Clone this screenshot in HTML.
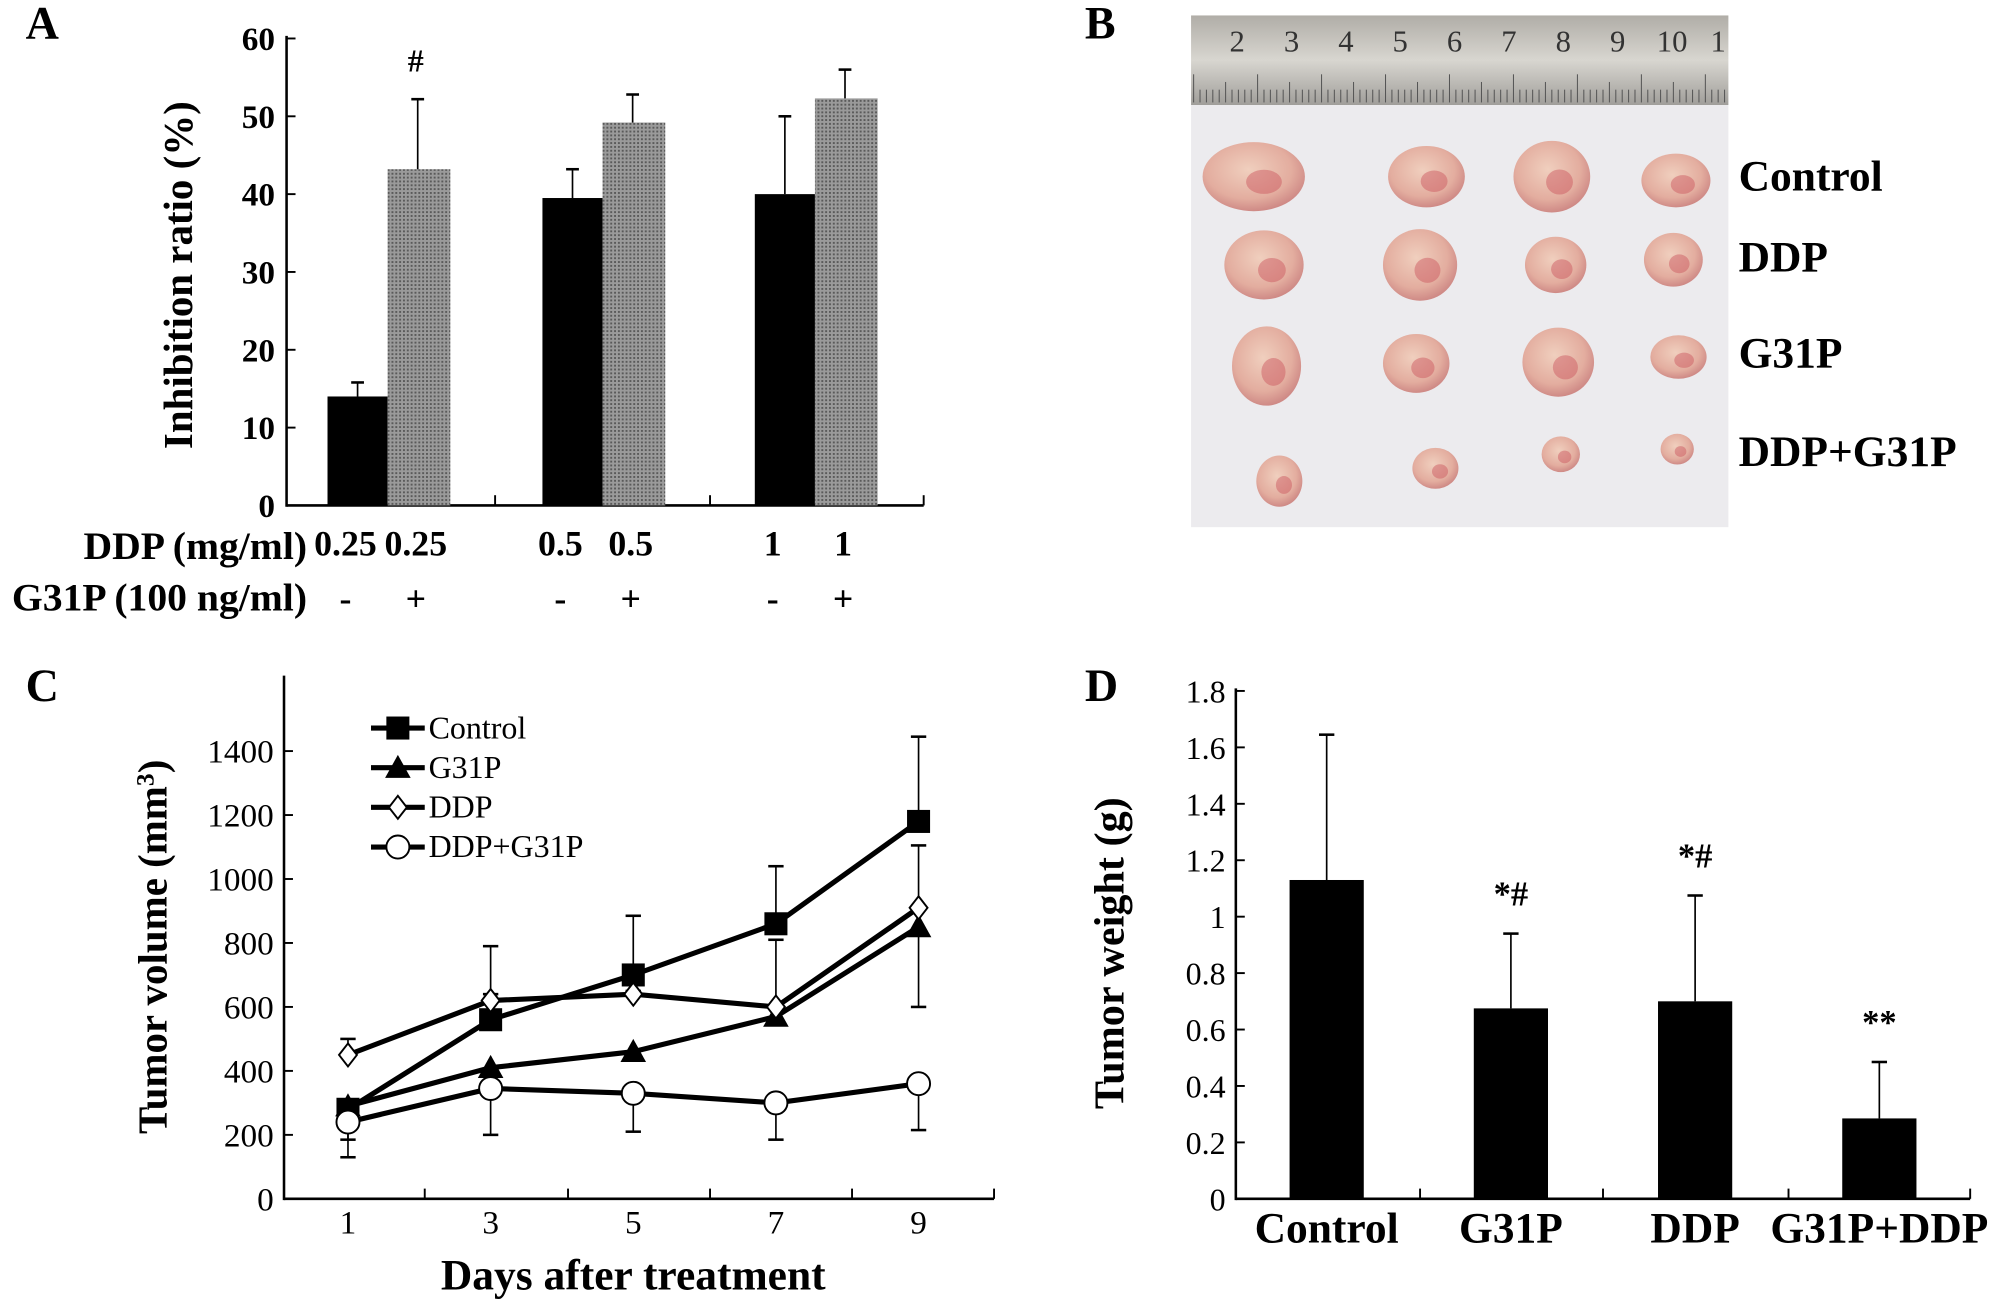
<!DOCTYPE html>
<html><head><meta charset="utf-8"><style>
html,body{margin:0;padding:0;background:#fff}
svg{display:block;font-family:"Liberation Serif",serif}
.b{font-weight:bold}
</style></head><body>
<svg id="fig" width="2006" height="1300" viewBox="0 0 1568 1016" xmlns="http://www.w3.org/2000/svg">
<defs>
<pattern id="grayPat" width="3" height="3" patternUnits="userSpaceOnUse"><rect width="3" height="3" fill="#9a9a9a"/><rect width="1.5" height="1.5" fill="#5a5a5a"/></pattern>
<linearGradient id="ruler" x1="0" y1="0" x2="0" y2="1"><stop offset="0" stop-color="#b0ada7"/><stop offset="0.5" stop-color="#d8d6d0"/><stop offset="1" stop-color="#a09e9a"/></linearGradient>
<radialGradient id="tumG" cx="0.45" cy="0.4" r="0.6"><stop offset="0" stop-color="#f0cfbe"/><stop offset="0.7" stop-color="#e3ad9f"/><stop offset="1" stop-color="#cf8a86"/></radialGradient>
</defs>
<g id="panelA"></g>
<g id="panelB"></g>
<g id="panelC"></g>
<g id="panelD"></g>
</svg>
<script>
// ---- Panel A data ----
const aGroups = ["0.25", "0.5", "1"];
const aBlack = [14, 39.5, 40];
const aBlackErr = [15.8, 43.2, 50];
const aGray = [43.2, 49.2, 52.3];
const aGrayErr = [52.2, 52.8, 56];
const aTicks = [0, 10, 20, 30, 40, 50, 60];
// ---- Panel C data ----
const cDays = [1, 3, 5, 7, 9];
const cTicks = [0, 200, 400, 600, 800, 1000, 1200, 1400];
const cControl = [280, 560, 700, 860, 1180];
const cControlErr = [300, 790, 885, 1040, 1445];
const cG31P = [290, 410, 460, 570, 850];
const cG31PErr = [185, 400, 440, 560, 600];
const cDDP = [450, 620, 640, 600, 910];
const cDDPErr = [500, 640, 650, 810, 1105];
const cCombo = [240, 345, 330, 300, 360];
const cComboErr = [130, 200, 210, 185, 215];
// ---- Panel D data ----
const dCats = ["Control", "G31P", "DDP", "G31P+DDP"];
const dVals = [1.13, 0.675, 0.7, 0.285];
const dErr = [1.645, 0.94, 1.075, 0.485];
const dMarks = ["", "*#", "*#", "**"];
const dTicks = [0, 0.2, 0.4, 0.6, 0.8, 1, 1.2, 1.4, 1.6, 1.8];

const NS = "http://www.w3.org/2000/svg";
function mk(parent, tag, attrs, text) {
  const e = document.createElementNS(NS, tag);
  for (const k in attrs) e.setAttribute(k, attrs[k]);
  if (text !== undefined) e.textContent = text;
  parent.appendChild(e);
  return e;
}
function line(p, x1, y1, x2, y2, w) { return mk(p, "line", {x1, y1, x2, y2, stroke: "#000", "stroke-width": w || 1.5}); }

// ================= Panel A =================
const A = document.getElementById("panelA");
const ay = v => 395 - v * (365 / 60);
const aX = [256, 424, 590];
const aBW = 47;
let t = mk(A, "text", {x: 20, y: 30, "font-size": 36, class: "b"}, "A");
 
line(A, 224, 28, 224, 396, 2);
line(A, 224, 395, 722, 395, 2);
[387, 555, 722].forEach(x => line(A, x, 395, x, 387, 1.5));
aTicks.forEach(v => {
  line(A, 224, ay(v), 231, ay(v), 1.5);
  const e = mk(A, "text", {x: 215, y: ay(v) + 9, "font-size": 26, "text-anchor": "end", class: "b"}, String(v));
   
});
t = mk(A, "text", {x: 0, y: 0, "font-size": 32, class: "b", "text-anchor": "middle", transform: "translate(150,215) rotate(-90)"}, "Inhibition ratio (%)");
 
aGroups.forEach((g, i) => {
  const x0 = aX[i];
  let r = mk(A, "rect", {x: x0, y: ay(aBlack[i]), width: aBW, height: ay(0) - ay(aBlack[i]), fill: "#000"});
   
  line(A, x0 + aBW / 2, ay(aBlack[i]), x0 + aBW / 2, ay(aBlackErr[i]), 1.3);
  line(A, x0 + aBW / 2 - 5, ay(aBlackErr[i]), x0 + aBW / 2 + 5, ay(aBlackErr[i]), 2);
  const x1 = x0 + aBW;
  r = mk(A, "rect", {x: x1, y: ay(aGray[i]), width: aBW + 2, height: ay(0) - ay(aGray[i]), fill: "url(#grayPat)"});
   
  line(A, x1 + aBW / 2, ay(aGray[i]), x1 + aBW / 2, ay(aGrayErr[i]), 1.3);
  line(A, x1 + aBW / 2 - 5, ay(aGrayErr[i]), x1 + aBW / 2 + 5, ay(aGrayErr[i]), 2);
  let e = mk(A, "text", {x: x0 + 14, y: 434, "font-size": 28, class: "b", "text-anchor": "middle"}, g);
   
  e = mk(A, "text", {x: x1 + 22, y: 434, "font-size": 28, class: "b", "text-anchor": "middle"}, g);
   
  e = mk(A, "text", {x: x0 + 14, y: 477, "font-size": 28, class: "b", "text-anchor": "middle"}, "-");
   
  e = mk(A, "text", {x: x1 + 22, y: 477, "font-size": 28, class: "b", "text-anchor": "middle"}, "+");
   
});
t = mk(A, "text", {x: aX[0] + aBW + 22, y: 56, "font-size": 25, class: "b", "text-anchor": "middle"}, "#");
 
t = mk(A, "text", {x: 240, y: 437, "font-size": 31, class: "b", "text-anchor": "end"}, "DDP (mg/ml)");
 
t = mk(A, "text", {x: 240, y: 477, "font-size": 31, class: "b", "text-anchor": "end"}, "G31P (100 ng/ml)");
 

// ================= Panel B (photo) =================
const B = document.getElementById("panelB");
t = mk(B, "text", {x: 848, y: 30, "font-size": 36, class: "b"}, "B");
 
let bg = mk(B, "rect", {x: 931, y: 82, width: 420, height: 330, fill: "#ecebee"});
 
let rl = mk(B, "rect", {x: 931, y: 12, width: 420, height: 70, fill: "url(#ruler)"});
 
for (let i = 0; i < 84; i++) {
  const x = 933 + i * 5;
  line(B, x, 80, x, i % 10 === 0 ? 58 : (i % 5 === 0 ? 64 : 70), 0.8).setAttribute("stroke", "#555");
}
["2","3","4","5","6","7","8","9","10","1"].forEach((n, i) => {
  const e = mk(B, "text", {x: i === 9 ? 1343 : 967 + i * 42.5, y: 40, "font-size": 24, "text-anchor": "middle", fill: "#333"}, n);
   
});
const tum = [
  [[980,138,40,27],[1115,138,30,24],[1213,138,30,28],[1310,141,27,21]],
  [[988,207,31,27],[1110,207,29,28],[1216,207,24,22],[1308,203,23,21]],
  [[990,286,27,31],[1107,284,26,23],[1218,283,28,27],[1312,279,22,17]],
  [[1000,376,18,20],[1122,366,18,16],[1220,355,15,14],[1311,351,13,12]]
];
tum.forEach(row => row.forEach(([x, y, rx, ry]) => {
  const e = mk(B, "ellipse", {cx: x, cy: y, rx, ry, fill: "url(#tumG)"});
   
  mk(B, "ellipse", {cx: x + rx * 0.2, cy: y + ry * 0.15, rx: rx * 0.35, ry: ry * 0.35, fill: "#c9525a", opacity: 0.45});
}));
[["Control",149],["DDP",212],["G31P",287],["DDP+G31P",364]].forEach(([s, y]) => {
  const e = mk(B, "text", {x: 1359, y, "font-size": 34, class: "b"}, s);
   
});

// ================= Panel C =================
const C = document.getElementById("panelC");
const cy = v => 937 - v * 0.25;
const cx = d => 272 + (d - 1) * 55.75;
t = mk(C, "text", {x: 20, y: 548, "font-size": 36, class: "b"}, "C");
 
line(C, 222, 528, 222, 938, 2);
line(C, 222, 937, 777, 937, 2);
[332, 444, 555, 666, 777].forEach(x => line(C, x, 937, x, 929, 1.5));
cTicks.forEach(v => {
  line(C, 222, cy(v), 229, cy(v), 1.5);
  const e = mk(C, "text", {x: 214, y: cy(v) + 9, "font-size": 26, "text-anchor": "end"}, String(v));
   
});
cDays.forEach(d => {
  const e = mk(C, "text", {x: cx(d), y: 964, "font-size": 26, "text-anchor": "middle"}, String(d));
   
});
t = mk(C, "text", {x: 0, y: 0, "font-size": 32, class: "b", "text-anchor": "middle", transform: "translate(130,740) rotate(-90)"});
 
t.innerHTML = 'Tumor volume (mm<tspan dy="-10" font-size="20">3</tspan><tspan dy="10">)</tspan>';
t = mk(C, "text", {x: 495, y: 1008, "font-size": 34, class: "b", "text-anchor": "middle"}, "Days after treatment");
 

function marker(p, type, x, y) {
  let e;
  if (type === "sq") e = mk(p, "rect", {x: x - 9, y: y - 9, width: 18, height: 18, fill: "#000"});
  else if (type === "tri") e = mk(p, "polygon", {points: `${x},${y-10} ${x+10},${y+8} ${x-10},${y+8}`, fill: "#000"});
  else if (type === "dia") e = mk(p, "polygon", {points: `${x},${y-9} ${x+7},${y} ${x},${y+9} ${x-7},${y}`, fill: "#fff", stroke: "#000", "stroke-width": 1.5});
  else e = mk(p, "circle", {cx: x, cy: y, r: 9, fill: "#fff", stroke: "#000", "stroke-width": 1.5});
  return e;
}
const series = [
  {name: "Control", vals: cControl, err: cControlErr, m: "sq"},
  {name: "G31P", vals: cG31P, err: cG31PErr, m: "tri"},
  {name: "DDP", vals: cDDP, err: cDDPErr, m: "dia"},
  {name: "DDP+G31P", vals: cCombo, err: cComboErr, m: "circ"}
];
series.forEach(s => {
  s.vals.forEach((v, i) => {
    const x = cx(cDays[i]);
    line(C, x, cy(v), x, cy(s.err[i]), 1.3);
    line(C, x - 6, cy(s.err[i]), x + 6, cy(s.err[i]), 2);
  });
});
series.forEach(s => {
  const pts = s.vals.map((v, i) => cx(cDays[i]) + "," + cy(v)).join(" ");
  const pl = mk(C, "polyline", {points: pts, fill: "none", stroke: "#000", "stroke-width": 4});
   
  s.vals.forEach((v, i) => {
    const e = marker(C, s.m, cx(cDays[i]), cy(v));
     
  });
});
series.forEach((s, i) => {
  const y = 569 + i * 31;
  const g = mk(C, "g", {});
   
  line(g, 290, y, 332, y, 4);
  marker(g, s.m, 311, y);
  mk(g, "text", {x: 335, y: y + 8, "font-size": 25}, s.name);
});

// ================= Panel D =================
const D = document.getElementById("panelD");
const dy = v => 937 - v * (397 / 1.8);
const dX = [1008, 1152, 1296, 1440];
const dBW = 58;
t = mk(D, "text", {x: 848, y: 548, "font-size": 36, class: "b"}, "D");
 
line(D, 966, 538, 966, 938, 2);
line(D, 966, 937, 1540, 937, 2);
[1110, 1253, 1398, 1540].forEach(x => line(D, x, 937, x, 929, 1.5));
dTicks.forEach(v => {
  line(D, 966, dy(v), 973, dy(v), 1.5);
  const e = mk(D, "text", {x: 958, y: dy(v) + 9, "font-size": 25, "text-anchor": "end"}, String(v));
   
});
t = mk(D, "text", {x: 0, y: 0, "font-size": 33, class: "b", "text-anchor": "middle", transform: "translate(878,745) rotate(-90)"}, "Tumor weight (g)");
 
dCats.forEach((c, i) => {
  const x = dX[i], xc = x + dBW / 2;
  const r = mk(D, "rect", {x, y: dy(dVals[i]), width: dBW, height: dy(0) - dy(dVals[i]), fill: "#000"});
   
  line(D, xc, dy(dVals[i]), xc, dy(dErr[i]), 1.3);
  line(D, xc - 6, dy(dErr[i]), xc + 6, dy(dErr[i]), 2);
  let e = mk(D, "text", {x: xc, y: 971, "font-size": 34, class: "b", "text-anchor": "middle"}, c);
   
  if (dMarks[i]) {
    e = mk(D, "text", {x: xc, y: dy(dErr[i]) - 22, "font-size": 27, class: "b", "text-anchor": "middle"}, dMarks[i]);
     
  }
});
</script>
</body></html>
